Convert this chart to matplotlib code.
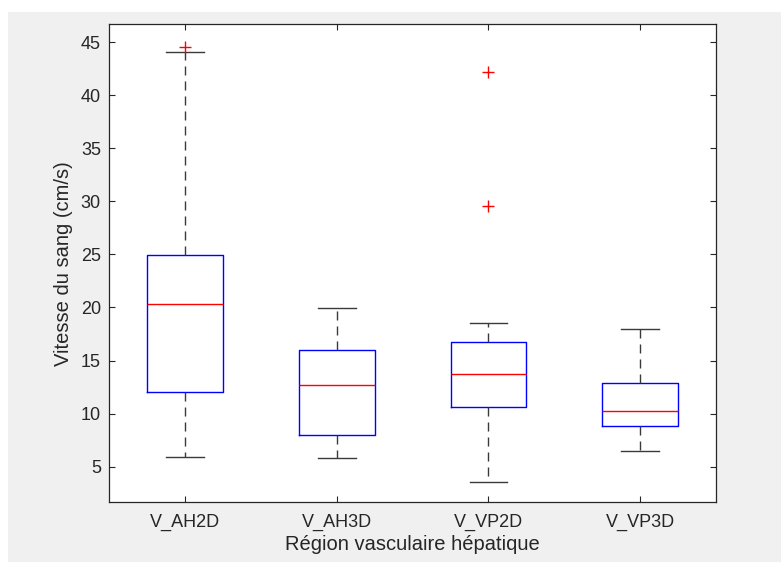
import matplotlib
matplotlib.use("Agg")
import matplotlib.pyplot as plt
from matplotlib.patches import Rectangle

categories = ["V_AH2D", "V_AH3D", "V_VP2D", "V_VP3D"]
whisker_low = [5.94, 5.8, 3.6, 6.48]
q1 = [12.0, 7.98, 10.65, 8.86]
medians = [20.35, 12.69, 13.7, 10.24]
q3 = [24.95, 15.99, 16.74, 12.85]
whisker_high = [44.05, 19.97, 18.5, 17.94]
outliers = [[44.55], [], [29.55, 42.17], []]
yticks = [5, 10, 15, 20, 25, 30, 35, 40, 45]

plt.rcParams['font.family'] = ['Liberation Sans', 'DejaVu Sans']
fig = plt.figure(figsize=(7.81, 5.62), dpi=100, facecolor='white')
fig.patches.append(Rectangle((8/781, 0), 1 - 8/781, 1 - 12/562, transform=fig.transFigure,
                             facecolor='#f0f0f0', edgecolor='none', zorder=-10))
ax = fig.add_axes([109.3/781, 1 - 502.3/562, (716 - 109.3)/781, (502.3 - 24.3)/562])

stats = []
for i, name in enumerate(categories):
    stats.append(dict(label=name, whislo=whisker_low[i], q1=q1[i], med=medians[i],
                      q3=q3[i], whishi=whisker_high[i], fliers=outliers[i]))

ax.bxp(stats, positions=[1, 2, 3, 4], widths=0.5, capwidths=0.25,
       boxprops=dict(color='blue', linewidth=1.0),
       medianprops=dict(color='red', linewidth=1.0),
       whiskerprops=dict(color='#3a3a3a', linewidth=1.0, linestyle=(0, (6.5, 4.3))),
       capprops=dict(color='#3a3a3a', linewidth=1.0),
       flierprops=dict(marker='+', markeredgecolor='red', markersize=8, markeredgewidth=1.0,
                       linestyle='none'))

ax.set_xlim(0.5, 4.5)
ax.set_ylim(1.65, 46.67)
ax.set_yticks(yticks)
ax.set_xticks([1, 2, 3, 4])
ax.set_xticklabels(categories)
tc = '#262626'
ax.tick_params(direction='in', length=4, width=0.8, colors=tc, labelsize=13,
               top=True, right=True)
ax.tick_params(axis='x', pad=8.5)
ax.tick_params(axis='y', pad=6)
for s in ax.spines.values():
    s.set_color(tc)
    s.set_linewidth(0.9)
ax.set_xlabel("Région vasculaire hépatique", fontsize=14.5, color=tc, labelpad=3)
ax.set_ylabel("Vitesse du sang (cm/s)", fontsize=14.5, color=tc, labelpad=6)

fig.savefig("out.png", dpi=100, facecolor=fig.get_facecolor())
